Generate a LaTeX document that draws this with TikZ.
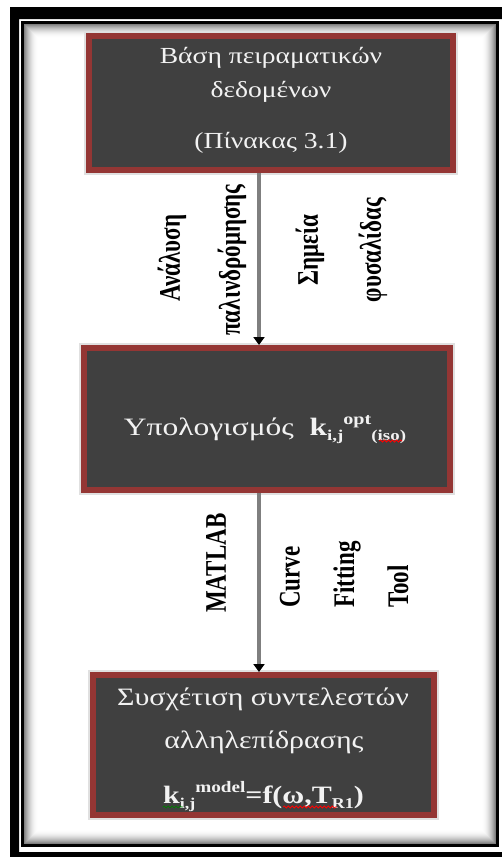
\documentclass[tikz,border=0pt]{standalone}
\usepackage{fontspec}
\setmainfont{Liberation Serif}
\usetikzlibrary{arrows.meta,decorations.pathmorphing}
\definecolor{boxred}{HTML}{943634}
\definecolor{boxfill}{HTML}{404040}
\definecolor{boxtext}{HTML}{F2F2F2}
\definecolor{flowgray}{HTML}{7F7F7F}
% horizontally / vertically widened text
\newcommand\hwide[1]{\scalebox{1.2}[1]{#1}}
\newcommand\hwider[1]{\scalebox{1.26}[1]{#1}}
\newcommand\vwide[1]{\scalebox{1}[1.3]{#1}}
\newcommand\supx[1]{\raisebox{0.42em}{\fontsize{16}{16}\selectfont #1}}
\newcommand\subx[1]{\raisebox{-0.22em}{\fontsize{15}{15}\selectfont #1}}
\tikzset{
  procbox/.style={rectangle, draw=boxred, fill=boxfill, line width=6pt, inner sep=0pt,
    preaction={draw=black!12, line width=10pt}},
  boxline/.style={anchor=base, inner sep=0pt, text=boxtext},
  flowlabel/.style={rotate=90, inner sep=0pt, text=black,
    font=\fontsize{23}{23}\selectfont\bfseries},
  flowarrow/.style={draw=flowgray, line width=3.5pt,
    -{Triangle[length=8pt,width=11pt,color=black]}},
  squiggle/.style={decorate, decoration={snake, segment length=4pt, amplitude=1pt}, line width=0.8pt}
}
\begin{document}
\begin{tikzpicture}[x=1pt,y=-1pt]
\useasboundingbox (0,0) rectangle (502,857);
\begin{scope}
  \clip (0,0) rectangle (502,857);
  \fill[white] (0,0) rectangle (502,857);
  % heavy outer frame and thin inner frame
  \fill[black, even odd rule] (10,7) rectangle (516,872) (19,19) rectangle (502,852);
  \draw[black, line width=3pt] (22.5,22.5) rectangle (497.5,845.5);
  % inner shadow of the panel
  \foreach \i in {0,...,13} {
    \pgfmathsetmacro\op{0.5*(1-\i/14)^2}
    \draw[black, opacity=\op, line width=1.05pt] ({24.5+\i},{24.5+\i}) rectangle ({495.5-\i},{843.5-\i});
  }
\end{scope}

% process boxes
\node[procbox, minimum width=364pt, minimum height=134pt] (b1) at (271,103) {};
\node[procbox, minimum width=366pt, minimum height=142pt] (b2) at (267,419) {};
\node[procbox, minimum width=341pt, minimum height=140pt] (b3) at (263.5,745) {};

% box texts
\begin{scope}[every node/.append style={font=\fontsize{23}{23}\selectfont}]
  \node[boxline] (t11) at (271,63) {\hwide{Βάση πειραματικών}};
  \node[boxline] (t12) at (271,97) {\hwide{δεδομένων}};
  \node[boxline] (t13) at (271,148) {\hwide{(Πίνακας 3.1)}};
\end{scope}
\begin{scope}[every node/.append style={font=\fontsize{25}{25}\selectfont}]
  \node[boxline] (t21) at (265,435) {\hwider{Υπολογισμός\ \ \textbf{k\subx{i,j}\supx{opt}\subx{(iso)}}}};
  \node[boxline] (t31) at (263,705) {\hwide{Συσχέτιση συντελεστών}};
  \node[boxline] (t32) at (264,748) {\hwide{αλληλεπίδρασης}};
  \node[boxline] (t33) at (263.5,803) {\hwide{\textbf{k\subx{i,j}\supx{model}=f(ω,T\subx{R1})}}};
\end{scope}

% proofing marks under the formulas
\draw[red, squiggle] ([xshift=-27pt,yshift=-6pt]t21.base east) -- ([xshift=-4pt,yshift=-6pt]t21.base east);
\draw[green!50!black, squiggle] ([xshift=0pt,yshift=-4pt]t33.base west) -- ([xshift=20pt,yshift=-4pt]t33.base west);
\draw[red, squiggle] (283,807) -- (337,807);

% connectors
\coordinate (ax) at (259,0);
\draw[flowarrow] (b1.south -| ax) -- (b2.north -| ax);
\draw[flowarrow] (b2.south -| ax) -- (b3.north -| ax);

% connector labels
\node[flowlabel] (l1a) at (172,258) {\vwide{Ανάλυση}};
\node[flowlabel] (l1b) at (232,260) {\vwide{παλινδρόμησης}};
\node[flowlabel] (l2a) at (310,250) {\vwide{Σημεία}};
\node[flowlabel] (l2b) at (373,250) {\vwide{φυσαλίδας}};
\node[flowlabel, anchor=west] (l3) at (216,613) {\vwide{MATLAB}};
\node[flowlabel, anchor=west] (l4a) at (290,608) {\vwide{Curve}};
\node[flowlabel, anchor=west] (l4b) at (347,608) {\vwide{Fitting}};
\node[flowlabel, anchor=west] (l4c) at (398,608) {\vwide{Tool}};
\end{tikzpicture}
\end{document}
